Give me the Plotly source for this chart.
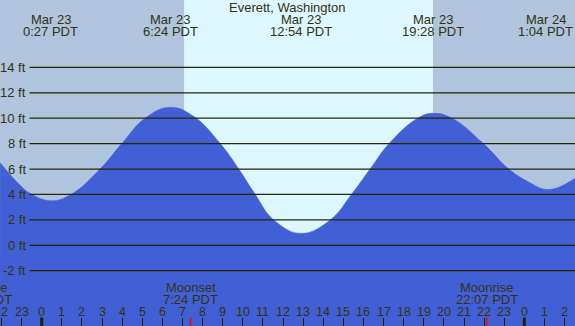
import plotly.graph_objects as go

# ---- data (hours relative to Mar 23 00:00 PDT) ----
tide_hours = [-2.07, -1.08, -0.58, 0.45, 1.45, 2.9, 3.98, 5.14, 6.4, 7.55, 8.88, 9.8,
              10.62, 11.54, 12.9, 14.35, 15.4, 16.33, 17.3, 18.7, 19.47, 20.4,
              21.9, 23.29, 24.28, 25.07, 25.77, 26.52]
tide_ft = [6.5, 4.74, 4.09, 3.51, 4.0, 6.0, 8.0, 10.0, 10.86, 10.15, 8.0, 6.0,
           4.0, 2.0, 0.94, 2.0, 4.0, 6.0, 8.05, 10.0, 10.38, 10.0,
           8.1, 5.92, 4.93, 4.4, 4.61, 5.27]

extreme_hours = [0.45, 6.4, 12.9, 19.47, 25.07]
extreme_dates = ["Mar 23", "Mar 23", "Mar 23", "Mar 23", "Mar 24"]
extreme_times = ["0:27 PDT", "6:24 PDT", "12:54 PDT", "19:28 PDT", "1:04 PDT"]

sunrise_h = 7.08
sunset_h = 19.46

moon_hours = [-3.04, 7.4, 22.12]
moon_names = ["Moonrise", "Moonset", "Moonrise"]
moon_times = ["20:58 PDT", "7:24 PDT", "22:07 PDT"]

hour_ticks = list(range(-2, 27))
hour_labels = [str(h % 24) for h in hour_ticks]
midnights = [0, 24]

ft_levels = [-2, 0, 2, 4, 6, 8, 10, 12, 14]
ft_labels = [f"{v} ft" for v in ft_levels]

x_range = [-2.074, 26.52]
y_range = [-6.35, 19.30]

title = "Everett, Washington"

# ---- style ----
W, H = 575, 326
night = "#B0C4DE"
day = "#DDF7FF"
water = "#4160D6"
ink = "#333311"
font = "Liberation Sans"

fig = go.Figure()
fig.add_trace(go.Scatter(x=x_range, y=[y_range[0]] * 2, mode="lines",
                         line=dict(width=0, color=water), hoverinfo="skip",
                         showlegend=False))
fig.add_trace(go.Scatter(x=tide_hours, y=tide_ft, mode="lines", fill="tonexty",
                         fillcolor=water,
                         line=dict(width=0.5, color=water, shape="spline", smoothing=1.2),
                         showlegend=False, hoverinfo="skip"))

shapes = []
shapes.append(dict(type="rect", xref="x", yref="paper", x0=x_range[0], x1=sunrise_h,
                   y0=0, y1=1, fillcolor=night, line=dict(width=0), layer="below"))
shapes.append(dict(type="rect", xref="x", yref="paper", x0=sunrise_h, x1=sunset_h,
                   y0=0, y1=1, fillcolor=day, line=dict(width=0), layer="below"))
shapes.append(dict(type="rect", xref="x", yref="paper", x0=sunset_h, x1=x_range[1],
                   y0=0, y1=1, fillcolor=night, line=dict(width=0), layer="below"))
for v in ft_levels:
    shapes.append(dict(type="line", xref="paper", yref="y", x0=29.5 / W, x1=1,
                       y0=v, y1=v, line=dict(color="#262600", width=1.3), layer="above"))
for m in midnights:
    shapes.append(dict(type="line", xref="x", yref="paper", x0=m, x1=m,
                       y0=0, y1=8.5 / H, line=dict(color="#222200", width=3), layer="above"))
for mh in moon_hours:
    if x_range[0] <= mh <= x_range[1]:
        shapes.append(dict(type="line", xref="x", yref="paper", x0=mh, x1=mh,
                           y0=0, y1=8.5 / H, line=dict(color="red", width=1.5), layer="above"))

ann = []
def txt(text, x, y, xref="x", yref="paper", xanchor="center", size=13):
    ann.append(dict(text=text, x=x, y=y, xref=xref, yref=yref, xanchor=xanchor,
                    yanchor="middle", showarrow=False,
                    font=dict(family=font, size=size, color=ink)))

def frac(h):
    return (h - x_range[0]) / (x_range[1] - x_range[0])

txt(title, 0.5, 1 - 7.5 / H, xref="paper")
for h, d, t in zip(extreme_hours, extreme_dates, extreme_times):
    txt(d, frac(h), 1 - 19.5 / H, xref="paper")
    txt(t, frac(h), 1 - 31.5 / H, xref="paper")
for h, n, t in zip(moon_hours, moon_names, moon_times):
    txt(n, frac(h), 1 - 287.5 / H, xref="paper")
    txt(t, frac(h), 1 - 299.5 / H, xref="paper")
for h, lab in zip(hour_ticks, hour_labels):
    txt(lab, frac(h), 1 - 312 / H, xref="paper", size=12.5)
for v, lab in zip(ft_levels, ft_labels):
    ann.append(dict(text=lab, x=27.5 / W, y=v, xref="paper", yref="y", xanchor="right",
                    yanchor="middle", showarrow=False,
                    font=dict(family=font, size=13, color=ink)))

fig.update_layout(
    width=W, height=H, margin=dict(l=0, r=0, t=0, b=0),
    paper_bgcolor=night, plot_bgcolor=night,
    shapes=shapes, annotations=ann,
    xaxis=dict(range=x_range, showgrid=False, zeroline=False, showline=False,
               tickvals=hour_ticks, ticks="inside", ticklen=8, tickwidth=1,
               tickcolor="#222200", showticklabels=False, fixedrange=True),
    yaxis=dict(range=y_range, showgrid=False, zeroline=False, showline=False,
               showticklabels=False, ticks="", fixedrange=True),
)

fig.write_html("out.html", config={"displayModeBar": False},
               post_script="document.body.style.margin='0';document.body.style.overflow='hidden';")
